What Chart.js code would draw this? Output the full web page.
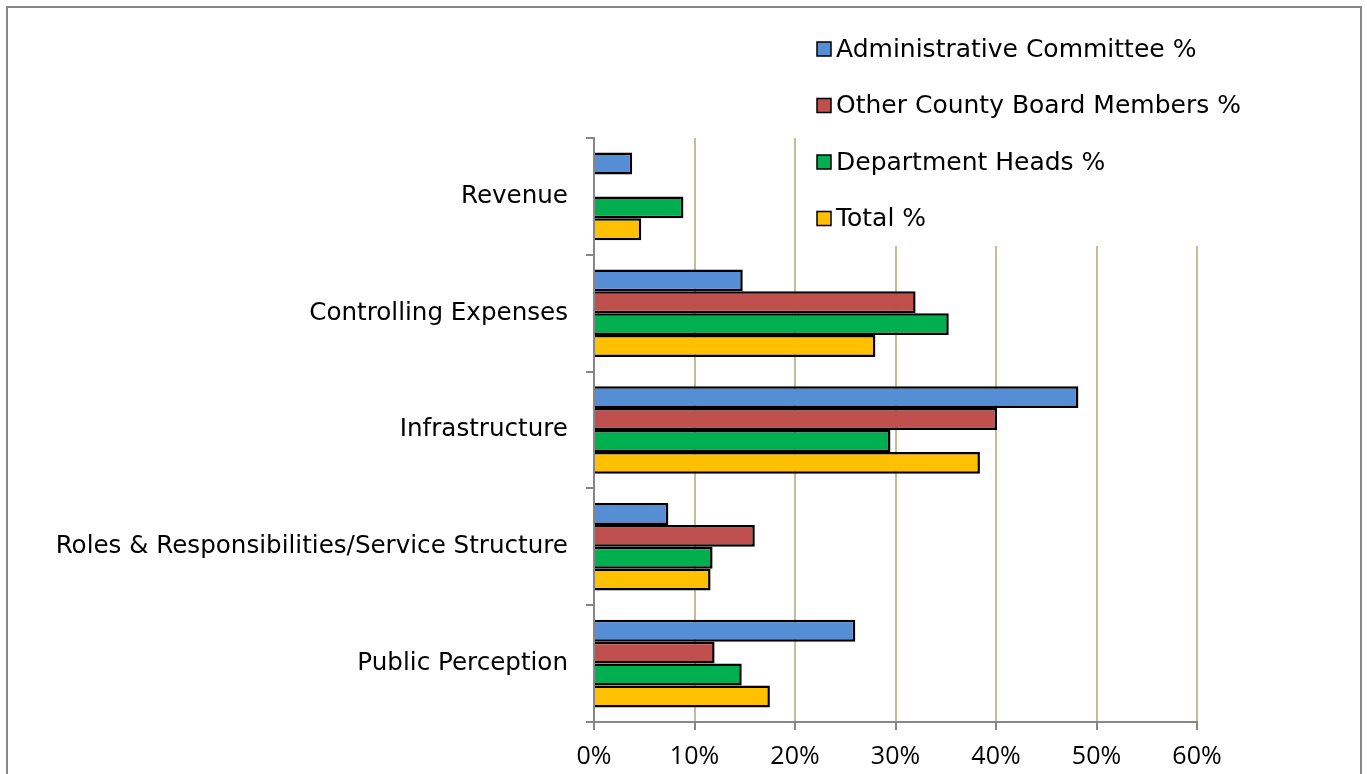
<!DOCTYPE html>
<html>
<head>
<meta charset="utf-8">
<script src="https://cdn.jsdelivr.net/npm/chart.js@4.4.0/dist/chart.umd.min.js"></script>
<style>
  html, body { margin: 0; padding: 0; background: #fff; overflow: hidden; }
  #wrap { position: absolute; left: 0; top: 0; width: 1367px; height: 774px; }
</style>
</head>
<body>
<div id="wrap"><canvas id="chart" width="1367" height="774"></canvas></div>
<script>
const categories = [
  'Revenue',
  'Controlling Expenses',
  'Infrastructure',
  'Roles & Responsibilities/Service Structure',
  'Public Perception'
];
const seriesNames = [
  'Administrative Committee %',
  'Other County Board Members %',
  'Department Heads %',
  'Total %'
];
const adminCommittee = [3.8, 14.8, 48.2, 7.4, 26.0];
const otherBoard = [0, 32.0, 40.1, 16.0, 12.0];
const deptHeads = [8.9, 35.3, 29.5, 11.8, 14.7];
const totals = [4.7, 28.0, 38.4, 11.6, 17.5];
const xTicks = [0, 10, 20, 30, 40, 50, 60];

const colors = ['#558ed5', '#c0504d', '#00b050', '#ffc000'];
const labelFont = '"DejaVu Sans", "Noto Sans", sans-serif';
const tickFont = '"Open Sans", "Noto Sans", sans-serif';

// white background, frame, and the legend box at the top right
const framePlugin = {
  id: 'frame',
  beforeDraw(chart) {
    const ctx = chart.ctx;
    ctx.save();
    ctx.fillStyle = '#fff';
    ctx.fillRect(0, 0, chart.width, chart.height);
    ctx.restore();
  },
  afterDraw(chart) {
    const ctx = chart.ctx;
    ctx.save();
    // legend backdrop hides the gridlines under it
    ctx.fillStyle = '#fff';
    ctx.fillRect(808, 22, 460, 224);
    ctx.font = '25px ' + labelFont;
    ctx.textBaseline = 'middle';
    chart.data.datasets.forEach((ds, i) => {
      const y = 49 + i * 56.5;
      ctx.fillStyle = ds.backgroundColor;
      ctx.fillRect(817, y - 7, 14, 14);
      ctx.strokeStyle = '#000';
      ctx.lineWidth = 1.5;
      ctx.strokeRect(817, y - 7, 14, 14);
      ctx.fillStyle = '#000';
      ctx.fillText(ds.label, 836, y + 1);
    });
    // outer frame
    ctx.strokeStyle = '#878787';
    ctx.lineWidth = 2;
    ctx.beginPath();
    ctx.moveTo(7, 790);
    ctx.lineTo(7, 7);
    ctx.lineTo(1361, 7);
    ctx.lineTo(1361, 790);
    ctx.stroke();
    ctx.restore();
  }
};

const seriesData = [adminCommittee, otherBoard, deptHeads, totals];

new Chart(document.getElementById('chart').getContext('2d'), {
  type: 'bar',
  data: {
    labels: categories,
    datasets: seriesNames.map((name, i) => ({
      label: name,
      data: seriesData[i],
      backgroundColor: colors[i],
      borderColor: '#000',
      borderWidth: 2.5,
      borderSkipped: 'start',
      categoryPercentage: 0.75,
      barPercentage: 1.0
    }))
  },
  options: {
    indexAxis: 'y',
    responsive: false,
    animation: false,
    layout: {
      padding: { top: 138, right: 170, left: 0, bottom: 0 }
    },
    scales: {
      x: {
        min: 0,
        max: 60,
        afterBuildTicks: (scale) => {
          scale.ticks = xTicks.map(v => ({ value: v }));
        },
        afterFit: (scale) => { scale.height = 52; },
        grid: {
          color: '#c4bd97',
          lineWidth: 2,
          tickColor: '#878787',
          tickLength: 8,
          drawOnChartArea: true
        },
        border: { color: '#878787', width: 2 },
        ticks: {
          color: '#000',
          padding: 12,
          font: { family: tickFont, size: 25 },
          callback: (v) => v + '%'
        }
      },
      y: {
        afterFit: (scale) => { scale.width = 594; },
        grid: {
          drawOnChartArea: false,
          color: '#878787',
          lineWidth: 2,
          tickLength: 8,
          offset: true
        },
        border: { color: '#878787', width: 2 },
        ticks: {
          color: '#000',
          padding: 18,
          font: { family: labelFont, size: 24.6 }
        }
      }
    },
    plugins: {
      legend: { display: false },
      tooltip: { enabled: false }
    }
  },
  plugins: [framePlugin]
});
</script>
</body>
</html>
